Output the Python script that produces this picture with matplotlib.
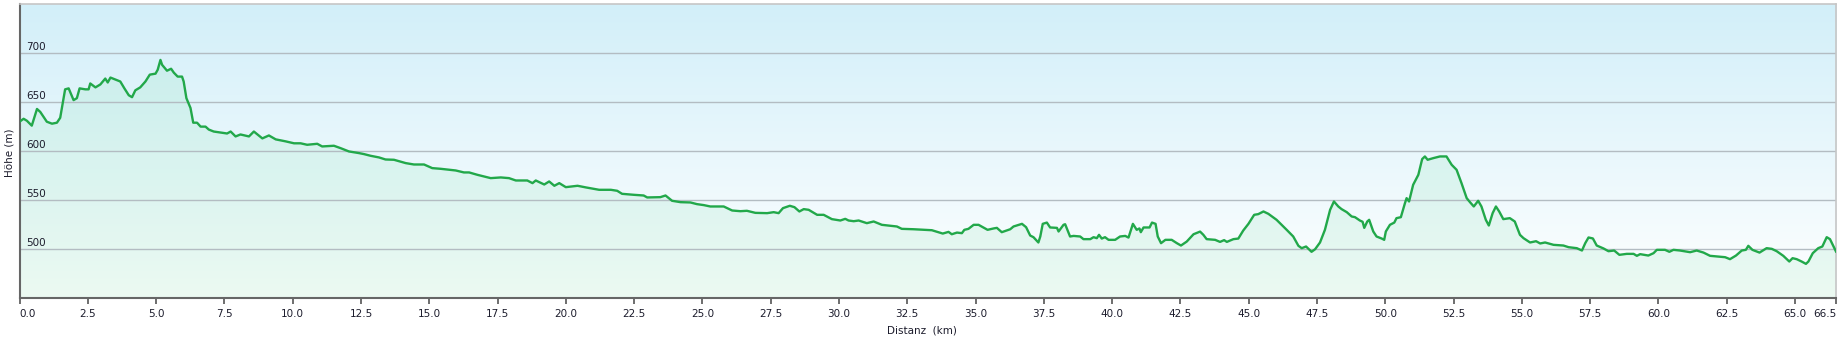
import numpy as np
import matplotlib.pyplot as plt
from matplotlib.colors import LinearSegmentedColormap

# elevation profile (km, m)
dist_km = [0.0, 0.15, 0.27, 0.45, 0.64, 0.76, 1.0, 1.19, 1.37, 1.49,
           1.67, 1.80, 1.98, 2.10, 2.20, 2.41, 2.53, 2.59, 2.78, 2.96,
           3.14, 3.23, 3.33, 3.51, 3.69, 3.84, 4.0, 4.12, 4.24, 4.42,
           4.61, 4.77, 4.98, 5.06, 5.16, 5.22, 5.40, 5.55, 5.65, 5.79,
           5.95, 6.01, 6.11, 6.26, 6.36, 6.50, 6.63, 6.81, 6.93, 7.11,
           7.36, 7.60, 7.73, 7.91, 8.09, 8.40, 8.58, 8.89, 9.13, 9.38,
           9.74, 10.05, 10.29,
           10.53, 10.9, 11.08, 11.51, 11.76, 12.06, 12.43, 12.61, 12.85, 13.16,
           13.40, 13.71, 14.14, 14.44, 14.81, 15.11, 15.42, 15.97, 16.27, 16.46,
           16.76, 17.25, 17.62, 17.92, 18.17, 18.59, 18.78, 18.90, 19.21, 19.39,
           19.58, 19.76, 20.0, 20.43, 20.74, 21.22, 21.65,
           21.88, 22.06, 22.49, 22.85, 22.98, 23.46, 23.65, 23.89, 24.2, 24.56,
           24.80, 25.05, 25.29, 25.78, 26.09, 26.39, 26.63, 26.94, 27.37, 27.61,
           27.79, 27.95, 28.2, 28.37, 28.55, 28.71, 28.89, 29.2, 29.44, 29.74,
           30.05, 30.23, 30.35, 30.54, 30.72, 31.02, 31.27, 31.57, 32.12, 32.30,
           32.73, 33.40, 33.80, 34.01, 34.13, 34.32, 34.5, 34.59, 34.74, 34.93,
           35.11, 35.44, 35.66, 35.78, 35.96, 36.27, 36.39, 36.70, 36.85, 37.0,
           37.12, 37.30, 37.37, 37.46, 37.61, 37.73, 37.98, 38.04, 38.22, 38.28,
           38.46, 38.59, 38.83, 38.95, 39.2, 39.32, 39.44, 39.52, 39.62, 39.74,
           39.87, 40.11, 40.29, 40.48, 40.60, 40.76, 40.90, 41.0, 41.05, 41.15,
           41.37, 41.46, 41.59, 41.67, 41.79, 41.95, 42.18, 42.37, 42.52, 42.73,
           42.98, 43.22,
           43.34, 43.46, 43.77, 43.95, 44.1, 44.2, 44.44, 44.62, 44.80, 44.99,
           45.20, 45.35, 45.54, 45.72, 46.02, 46.39, 46.63, 46.82, 46.94, 47.10,
           47.30, 47.43, 47.61, 47.79, 47.98, 48.12, 48.28, 48.40, 48.59, 48.77,
           48.89, 49.07, 49.17, 49.23, 49.34, 49.41, 49.56, 49.68, 49.87, 49.96,
           50.02, 50.17, 50.33, 50.41, 50.57, 50.72, 50.78, 50.87, 51.02, 51.21,
           51.35, 51.45, 51.55, 51.76, 52.0, 52.24, 52.43, 52.61, 52.79, 52.98,
           53.10, 53.24, 53.40, 53.52, 53.68, 53.79, 53.93, 54.05, 54.17, 54.32,
           54.56, 54.74, 54.93,
           55.06, 55.30, 55.52, 55.67, 55.85, 56.16, 56.52, 56.71, 57.01, 57.2,
           57.32, 57.44, 57.60, 57.74, 57.99, 58.17, 58.38, 58.57, 58.84, 59.09,
           59.21, 59.33, 59.63, 59.82, 59.94, 60.24, 60.40, 60.55, 60.79, 61.16,
           61.40, 61.65, 61.89, 62.44, 62.62, 62.84, 63.05, 63.20, 63.29, 63.44,
           63.70, 63.96, 64.15, 64.33, 64.57, 64.79, 64.91, 65.06, 65.24, 65.40,
           65.49, 65.65, 65.85, 66.0, 66.16, 66.28, 66.5]

elev_m = [630, 633, 631, 626, 643, 640, 630, 628, 629, 634,
          663, 664, 652, 654, 664, 663, 663, 669, 665, 668,
          674, 670, 675, 673, 671, 664, 657, 655, 662, 665,
          671, 678, 679, 683, 693, 688, 682, 684, 680, 676,
          676, 671, 654, 644, 629, 629, 625, 625, 622, 620,
          619, 618, 620, 615, 617, 615, 620, 613, 616, 612,
          610, 608, 608,
          606.5, 607.5, 604.8, 605.5, 603, 599.7, 598, 597, 595.3, 593.6,
          591.5, 591.2, 587.8, 586.4, 586.4, 582.7, 582, 580.3, 578.3, 578.3,
          575.9, 572.5, 573.2, 572.5, 570.1, 570.1, 567.4, 570.1, 566, 569.1,
          564.7, 567.4, 563.3, 564.7, 563, 560.6, 560.6,
          559.6, 556.5, 555.5, 554.8, 552.8, 553.1, 554.8, 549.4, 548, 547.7,
          546, 545, 543.6, 543.6, 539.5, 538.8, 539.2, 537.1, 536.8, 537.8,
          536.8, 541.9, 544.3, 542.9, 538.5, 540.9, 540.2, 535.1, 535.1, 530.7,
          529.3, 531, 529.3, 528.6, 529.3, 526.6, 528.3, 524.9, 523.2, 520.8,
          520.4, 519.4, 516, 517.7, 515.3, 517, 516.4, 519.8, 520.8, 524.9,
          524.9, 519.8, 521.2, 521.8, 517.4, 520.4, 523.2, 525.9, 522.5, 514,
          512.3, 506.9, 513, 525.9, 527.2, 522.2, 521.8, 518.1, 524.9, 525.5,
          513, 513.6, 513, 510.3, 510.3, 512.3, 511.3, 514.7, 510.9, 512.3,
          509.6, 509.6, 513, 513.6, 511.9, 525.9, 519.8, 521.2, 517.4, 522.2,
          522.2, 527.2, 525.9, 513, 506.2, 509.6, 509.6, 506.2, 503.8, 507.8,
          515.3, 518,
          514.7, 510.3, 509.6, 507.5, 509.3, 507.5, 510.3, 510.9, 519.1, 525.9,
          535.1, 535.8, 538.5, 536.1, 530, 519.8, 513, 503.5, 501.1, 502.8,
          497.4, 500, 506.9, 519.8, 540.2, 548.7, 543.6, 540.9, 537.8, 533.4,
          532.7, 529.3, 528, 521.8, 528.3, 530, 518.1, 513, 510.9, 509.6,
          518.1, 524.9, 527.2, 531.7, 532.7, 547, 552.1, 548.7, 565.7, 575.9,
          591.9, 594.6, 591.2, 592.9, 594.6, 594.6, 586.1, 581, 567.4, 552.1,
          548, 543.6, 549.4, 543.6, 530, 524.2, 536.8, 543.6, 538.5, 530.7,
          531.7, 528.3, 514.7,
          511.3, 506.9, 508.2, 505.9, 506.9, 504.5, 503.8, 502.1, 501.1, 498.7,
          506.2, 512, 511, 503.8, 500.8, 498, 498.7, 494.3, 495.3, 495.3,
          493.3, 495, 493.6, 496, 499.4, 499.4, 497.4, 499.4, 498.7, 497,
          498.7, 496.6, 493.3, 491.9, 489.9, 493.6, 498.7, 499.4, 503.5, 499.4,
          496.6, 501.1, 500.4, 498, 493.3, 487.5, 490.9, 489.9, 487.5, 485.1,
          487.5, 496, 501.1, 502.8, 512.3, 510.3, 497.7]

x_ticks = [0.0, 2.5, 5.0, 7.5, 10.0, 12.5, 15.0, 17.5, 20.0, 22.5, 25.0, 27.5,
           30.0, 32.5, 35.0, 37.5, 40.0, 42.5, 45.0, 47.5, 50.0, 52.5, 55.0,
           57.5, 60.0, 62.5, 65.0, 66.5]
y_ticks = [500, 550, 600, 650, 700]
y_min, y_max = 450, 750
x_max = 66.5

txt = '#1c1c2c'

fig = plt.figure(figsize=(18.39, 3.42), dpi=100)
ax = fig.add_axes([19.5 / 1839, 43.7 / 342, 1816.5 / 1839, 294.3 / 342])

# background: light blue at the top fading to white
bg = LinearSegmentedColormap.from_list('bg', ['#ffffff', '#d2eff9'])
grad = np.linspace(0, 1, 256).reshape(-1, 1)
ax.imshow(grad, cmap=bg, origin='lower', extent=(0, x_max, y_min, y_max),
          aspect='auto', zorder=0, interpolation='bicubic')

ax.fill_between(dist_km, elev_m, y_min, color='#2ecc71', alpha=0.09, lw=0, zorder=1)
for v in y_ticks:
    ax.axhline(v, color='#b3bcc2', lw=1.0, zorder=2)
ax.plot(dist_km, elev_m, color='#22a84a', lw=1.7, zorder=3, solid_joinstyle='round')

ax.set_xlim(0, x_max)
ax.set_ylim(y_min, y_max)

# y labels sit inside the plot, just above the grid lines
ax.set_yticks([])
for v in y_ticks:
    ax.annotate(str(v), xy=(0, v), xycoords=ax.get_yaxis_transform(),
                xytext=(5, 2.2), textcoords='offset points',
                ha='left', va='baseline', fontsize=7.5, color=txt)

ax.set_xticks(x_ticks)
ax.set_xticklabels(['%.1f' % t for t in x_ticks])
ax.tick_params(axis='x', length=4, width=1.2, color='#555555', pad=4,
               labelsize=7.5, labelcolor=txt)
labels = ax.get_xticklabels()
labels[0].set_ha('left')
labels[-1].set_ha('right')

for s in ['left', 'bottom']:
    ax.spines[s].set_color('#666666')
    ax.spines[s].set_linewidth(1.5)
for s in ['top', 'right']:
    ax.spines[s].set_color('#c6c6c6')
    ax.spines[s].set_linewidth(1.2)

ax.set_ylabel('Höhe (m)', fontsize=7.5, color=txt)
ax.yaxis.set_label_coords(-0.0025, 0.494)
ax.set_xlabel('Distanz  (km)', fontsize=7.5, color=txt)
ax.xaxis.set_label_coords(0.497, -0.094)

fig.savefig('out.png', dpi=100)
